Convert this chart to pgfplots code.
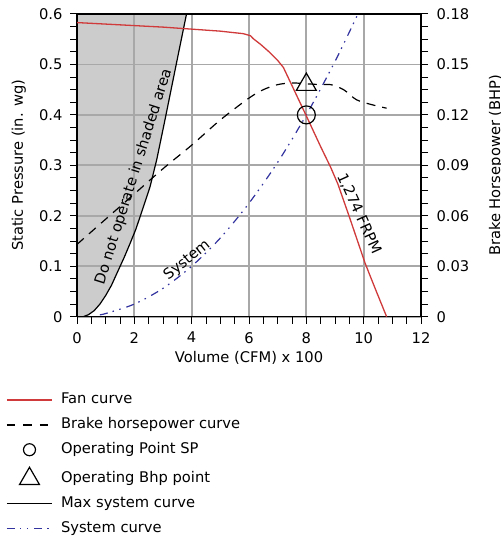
\documentclass[border=0pt]{standalone}
\usepackage{pgfplots}
\pgfplotsset{compat=1.18}
\usepackage{fontspec}
\setmainfont{DejaVu Sans}
\definecolor{fanred}{HTML}{D03A3A}
\definecolor{sysblue}{HTML}{3333A0}
\definecolor{shade}{HTML}{CCCCCC}
\definecolor{gridgray}{HTML}{A8A8A8}
\begin{document}
\begin{tikzpicture}[x=1pt,y=1pt]
\pgfplotsset{
  /pgf/number format/assume math mode=true,
  myaxis/.style={
    at={(77pt,223.3pt)}, anchor=south west,
    scale only axis, width=344pt, height=302.7pt,
    xmin=0, xmax=12,
    font=\fontsize{14.7}{17}\selectfont,
    tick align=outside,
    major tick length=7pt, minor tick length=7pt,
    tick style={black, line width=1pt},
    axis line style={line width=1.5pt},
  },
  legend image code/.code={%
    \path (0pt,0pt) (45pt,0pt);
    \draw[mark repeat=2,mark phase=2,#1] plot coordinates {(0pt,0pt) (22.5pt,0pt) (45pt,0pt)};},
}
\begin{axis}[myaxis, set layers,
  ymin=0, ymax=0.6,
  xtick={0,2,4,6,8,10,12}, xticklabels={0,2,4,6,8,10,12},
  ytick={0,0.1,0.2,0.3,0.4,0.5,0.6},
  yticklabels={0,0.1,0.2,0.3,0.4,0.5,0.6},
  xticklabel style={yshift=-5pt},
  yticklabel style={xshift=-4pt},
  minor x tick num=3, minor y tick num=3,
  xtick pos=bottom, ytick pos=left,
  grid=major, major grid style={draw=gridgray, line width=1.8pt},
  xlabel={Volume (CFM) x 100},
  ylabel={Static Pressure (in. wg)},
  every axis y label/.style={at={(axis description cs:-0.157,0.5)}, rotate=90, anchor=base, inner sep=0pt},
  every axis x label/.style={at={(axis description cs:0.5,-0.1517)}, anchor=base, inner sep=0pt},
  legend style={at={(axis description cs:-0.206,-0.251)}, anchor=north west, draw=none, fill=none,
    inner sep=0pt, row sep=10.3pt, column sep=8.4pt,
    nodes={inner sep=0pt, text height=11pt, text depth=3.5pt},
    font=\fontsize{14.7}{17}\selectfont},
  legend cell align=left,
]
% shaded forbidden region
\addplot[draw=none, fill=shade, forget plot, on layer=axis background] coordinates {
(0,0) (0.22,0) (0.4,0.004) (0.6,0.012) (0.8,0.025) (1.0,0.042) (1.2,0.062)
(1.44,0.092) (1.65,0.118) (1.85,0.145) (2.05,0.173) (2.2,0.198) (2.4,0.232)
(2.55,0.258) (2.78,0.311) (3.05,0.385) (3.3,0.455) (3.55,0.525) (3.82,0.6)
(0,0.6) (0,0)};
% max system curve
\addplot[black, line width=1.2pt, forget plot] coordinates {
(0,0) (0.22,0) (0.4,0.004) (0.6,0.012) (0.8,0.025) (1.0,0.042) (1.2,0.062)
(1.44,0.092) (1.65,0.118) (1.85,0.145) (2.05,0.173) (2.2,0.198) (2.4,0.232)
(2.55,0.258) (2.78,0.311) (3.05,0.385) (3.3,0.455) (3.55,0.525) (3.82,0.6)};
% system curve
\addplot[sysblue, line width=1.2pt, smooth,
  dash pattern=on 8pt off 5pt on 1.5pt off 5.5pt on 1.5pt off 6pt, forget plot] coordinates {
(0.8,0.004) (1,0.00625) (2,0.025) (3,0.05625) (4,0.1) (5,0.156) (6,0.225)
(7,0.306) (8,0.4) (9,0.506) (9.8,0.6)};
% fan curve
\addplot[fanred, line width=1.3pt, forget plot] coordinates {
(0,0.583) (1,0.580) (2,0.577) (3,0.574) (4,0.570) (5,0.566) (5.8,0.561) (6.05,0.557)
(6.15,0.551) (6.4,0.540) (6.7,0.525) (7.0,0.508) (7.2,0.494) (7.5,0.458) (8,0.398)
(8.5,0.337) (8.85,0.296) (9.1,0.263) (9.5,0.198) (10.05,0.106) (10.4,0.056) (10.8,0)};
% operating point SP
\addplot[only marks, mark=o, mark size=9pt, mark options={black, line width=1.2pt}, forget plot]
  coordinates {(8,0.40)};
\node[rotate=72.5, anchor=base, inner sep=0pt, font=\fontsize{14.7}{17}\selectfont] at (axis cs:2.12,0.275) {Do not operate in shaded area};
\node[rotate=39, font=\fontsize{14.7}{17}\selectfont] at (axis cs:3.84,0.112) {System};
\node[rotate=-65.7, font=\fontsize{14.7}{17}\selectfont] at (axis cs:9.84,0.204) {1,274 FRPM};
% legend
\addlegendimage{fanred, line width=1.3pt}
\addlegendentry{Fan curve}
\addlegendimage{black, line width=1.2pt, dash pattern=on 8.5pt off 8pt}
\addlegendentry{Brake horsepower curve}
\addlegendimage{only marks, mark=o, mark size=6pt, mark options={black, line width=1.2pt}}
\addlegendentry{Operating Point SP}
\addlegendimage{only marks, mark=triangle, mark size=11.5pt, mark options={black, line width=1.2pt}}
\addlegendentry{Operating Bhp point}
\addlegendimage{black, line width=1.2pt}
\addlegendentry{Max system curve}
\addlegendimage{sysblue, line width=1.2pt, dash pattern=on 8pt off 5pt on 1.5pt off 5.5pt on 1.5pt off 6pt}
\addlegendentry{System curve}
\end{axis}
\begin{axis}[myaxis,
  ymin=0, ymax=0.18,
  axis x line=none, axis y line*=right,
  ytick={0,0.03,0.06,0.09,0.12,0.15,0.18},
  yticklabels={0,0.03,0.06,0.09,0.12,0.15,0.18},
  yticklabel style={xshift=5pt},
  minor y tick num=3,
  ylabel={Brake Horsepower (BHP)},
  every axis y label/.style={at={(axis description cs:1.2297,0.5)}, rotate=90, anchor=base, inner sep=0pt},
]
\addplot[black, line width=1.2pt, dash pattern=on 9pt off 7pt, smooth, forget plot] coordinates {
(0,0.043) (1,0.058) (2,0.073) (3,0.088) (4,0.102) (5,0.117) (6,0.130) (6.5,0.135)
(7,0.138) (7.5,0.139) (8,0.1385) (8.5,0.138) (8.85,0.138) (9.3,0.135) (9.75,0.129)
(10.3,0.126) (10.8,0.124)};
\addplot[only marks, mark=triangle, mark size=11.5pt, mark options={black, line width=1.2pt}, forget plot]
  coordinates {(8,0.138)};
\end{axis}
\pgfresetboundingbox
\path[use as bounding box] (0,0) rectangle (500,540);
\end{tikzpicture}
\end{document}
